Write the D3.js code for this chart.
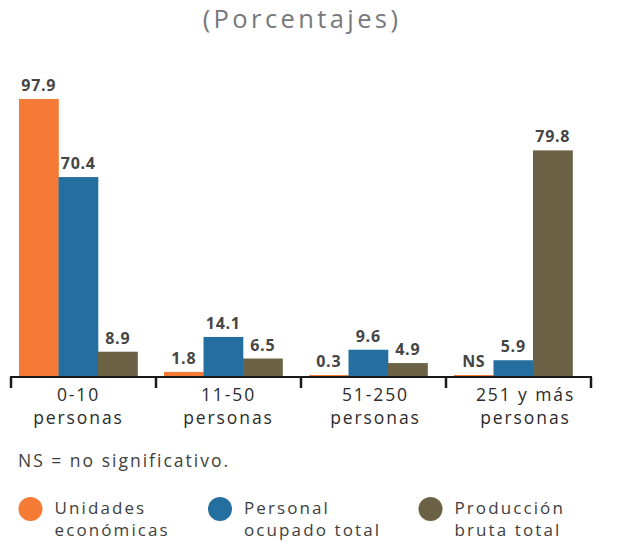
<!DOCTYPE html>
<html><head><meta charset="utf-8">
<script src="https://cdn.jsdelivr.net/npm/d3@7"></script>
<style>
html,body{margin:0;padding:0;background:#fff;}
svg{display:block;font-family:"Open Sans",sans-serif;}
</style></head>
<body><svg id="c" width="622" height="542"></svg>
<script>
const title = "(Porcentajes)";
const categories = [["0-10","personas"],["11-50","personas"],["51-250","personas"],["251 y más","personas"]];
const seriesNames = [["Unidades","económicas"],["Personal","ocupado total"],["Producción","bruta total"]];
const seriesColors = ["#f47a36","#246fa0","#6b6245"];
const unidades = [97.9, 1.8, 0.3, 0.0];
const personal = [70.4, 14.1, 9.6, 5.9];
const produccion = [8.9, 6.5, 4.9, 79.8];
const unidadesLabels = ["97.9","1.8","0.3","NS"];
const personalLabels = ["70.4","14.1","9.6","5.9"];
const produccionLabels = ["8.9","6.5","4.9","79.8"];
const note = "NS = no significativo.";

const series = [
  {values: unidades, labels: unidadesLabels},
  {values: personal, labels: personalLabels},
  {values: produccion, labels: produccionLabels}
];

const svg = d3.select("#c");
const baseY = 377;
const y = d3.scaleLinear().domain([0, 100]).range([baseY, baseY - 284]);
const x0 = d3.scaleBand().domain(d3.range(categories.length)).range([11, 591]).paddingInner(0).paddingOuter(0);
const x1 = d3.scaleBand().domain(d3.range(series.length)).range([8, 126.5]).padding(0);
const labelShift = [-5, 0, 2, 7];
const bodyFont = 17.5, bodySpacing = 1.9;

svg.append("text").attr("x", 302).attr("y", 27.5).attr("text-anchor", "middle")
  .attr("font-size", 25.5).attr("letter-spacing", 3.4).attr("fill", "#77787b").text(title);

const g = svg.append("g");
series.forEach((s, si) => {
  s.values.forEach((v, ci) => {
    const bx = x0(ci) + x1(si);
    const h = Math.max(baseY - y(v), 2);
    g.append("rect").attr("x", bx).attr("y", baseY - h).attr("width", x1.bandwidth() + 0.3).attr("height", h)
      .attr("fill", seriesColors[si]);
    g.append("text").attr("x", bx + x1.bandwidth() / 2).attr("y", baseY - h - 8)
      .attr("text-anchor", "middle").attr("font-size", 16).attr("font-weight", 700)
      .attr("letter-spacing", 0.7).attr("fill", "#454545").text(s.labels[ci]);
  });
});

// axis
const axisG = svg.append("g").attr("transform", `translate(0,${baseY})`);
const edges = x0.domain().map(d => x0(d)).concat([x0.range()[1]]);
axisG.append("line").attr("x1", edges[0] - 1).attr("x2", edges[edges.length - 1] + 1)
  .attr("y1", 0).attr("y2", 0).attr("stroke", "#1a1a1a").attr("stroke-width", 2.2);
edges.forEach(e => {
  axisG.append("line").attr("x1", e).attr("x2", e).attr("y1", 0).attr("y2", 11)
    .attr("stroke", "#1a1a1a").attr("stroke-width", 2.5);
});
categories.forEach((c, ci) => {
  const cx = x0(ci) + x0.bandwidth() / 2 + labelShift[ci];
  const t = axisG.append("text").attr("text-anchor", "middle").attr("font-size", bodyFont)
    .attr("letter-spacing", bodySpacing).attr("fill", "#2b2b2b");
  t.append("tspan").attr("x", cx).attr("y", 24).text(c[0]);
  t.append("tspan").attr("x", cx).attr("y", 47).text(c[1]);
});

svg.append("text").attr("x", 18).attr("y", 467).attr("font-size", bodyFont).attr("letter-spacing", 2)
  .attr("fill", "#404040").text(note);

const legX = [30.5, 220, 430.5];
seriesNames.forEach((n, i) => {
  const lg = svg.append("g").attr("transform", `translate(${legX[i]},509)`);
  lg.append("circle").attr("cx", 0).attr("cy", 0).attr("r", 12).attr("fill", seriesColors[i]);
  const t = lg.append("text").attr("font-size", 17).attr("letter-spacing", 2.1).attr("fill", "#404040");
  t.append("tspan").attr("x", 24).attr("y", 5).text(n[0]);
  t.append("tspan").attr("x", 24).attr("y", 27).text(n[1]);
});
</script></body></html>
